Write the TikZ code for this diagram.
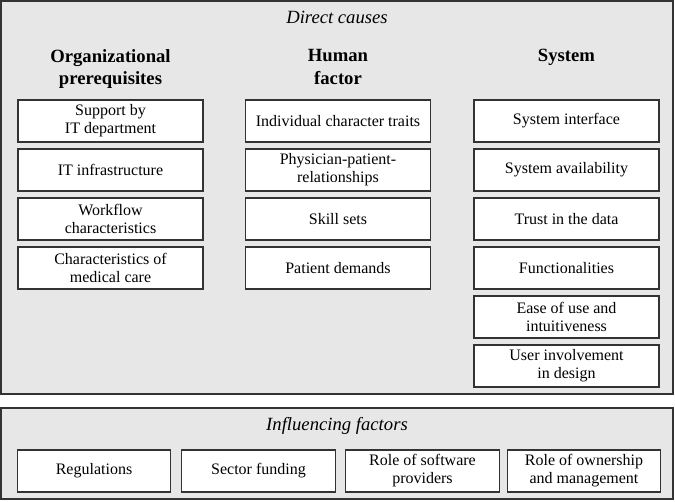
\documentclass[tikz,border=0pt]{standalone}
\usepackage{fontspec}
\setmainfont{Liberation Serif}
\usepackage{tikz}
\usetikzlibrary{positioning}
\usepackage{xcolor}
\definecolor{panelgray}{HTML}{E7E7E7}
\definecolor{edgegray}{HTML}{333333}

\begin{document}
\begin{tikzpicture}[
    x=0.75pt, y=-0.75pt,
    panel/.style={draw=edgegray, fill=panelgray, line width=1.1pt},
    causebox/.style={draw=edgegray, fill=white, line width=0.9pt, font=\fontsize{12}{13.5}\selectfont, inner sep=2pt, minimum width=138.75pt, minimum height=31.5pt, align=center},
    factorbox/.style={causebox, minimum width=115pt},
    heading/.style={font=\fontsize{14}{17}\selectfont\bfseries, align=center, anchor=north, inner sep=0pt},
    paneltitle/.style={font=\fontsize{14}{16}\selectfont\itshape, inner sep=0pt}
]
    \useasboundingbox (0,0) rectangle (675,501);

    % Pannelli di sfondo
    \draw[panel] (1,1) rectangle (673,394);
    \draw[panel] (1,408) rectangle (673,499);

    % Titoli dei pannelli
    \node[paneltitle] (direct) at (337,17) {Direct causes};
    \node[paneltitle] (influencing) at (337,426) {Influencing factors};

    % Intestazioni delle colonne
    \node[heading] (orghead) at (110.5,49) {Organizational\\prerequisites};
    \node[heading] (humanhead) at (338,49) {Human\\factor};
    \node[heading] (systemhead) at (566.5,49) {System};

    % Colonna 1: prerequisiti organizzativi
    \node[causebox] (org1) at (110.5,121) {Support by\\IT department};
    \node[causebox] (org2) at (110.5,170) {IT infrastructure};
    \node[causebox] (org3) at (110.5,219) {Workflow\\characteristics};
    \node[causebox] (org4) at (110.5,268) {Characteristics of\\medical care};

    % Colonna 2: fattore umano
    \node[causebox] (hum1) at (338,121) {Individual character traits};
    \node[causebox] (hum2) at (338,170) {Physician-patient-\\relationships};
    \node[causebox] (hum3) at (338,219) {Skill sets};
    \node[causebox] (hum4) at (338,268) {Patient demands};

    % Colonna 3: sistema
    \node[causebox] (sys1) at (566.5,121) {System interface};
    \node[causebox] (sys2) at (566.5,170) {System availability};
    \node[causebox] (sys3) at (566.5,219) {Trust in the data};
    \node[causebox] (sys4) at (566.5,268) {Functionalities};
    \node[causebox] (sys5) at (566.5,317) {Ease of use and\\intuitiveness};
    \node[causebox] (sys6) at (566.5,366) {User involvement\\in design};

    % Fattori influenzanti
    \node[factorbox] (inf1) at (94,471) {Regulations};
    \node[factorbox] (inf2) at (258.5,471) {Sector funding};
    \node[factorbox] (inf3) at (422.5,471) {Role of software\\providers};
    \node[factorbox] (inf4) at (584,471) {Role of ownership\\and management};
\end{tikzpicture}
\end{document}
